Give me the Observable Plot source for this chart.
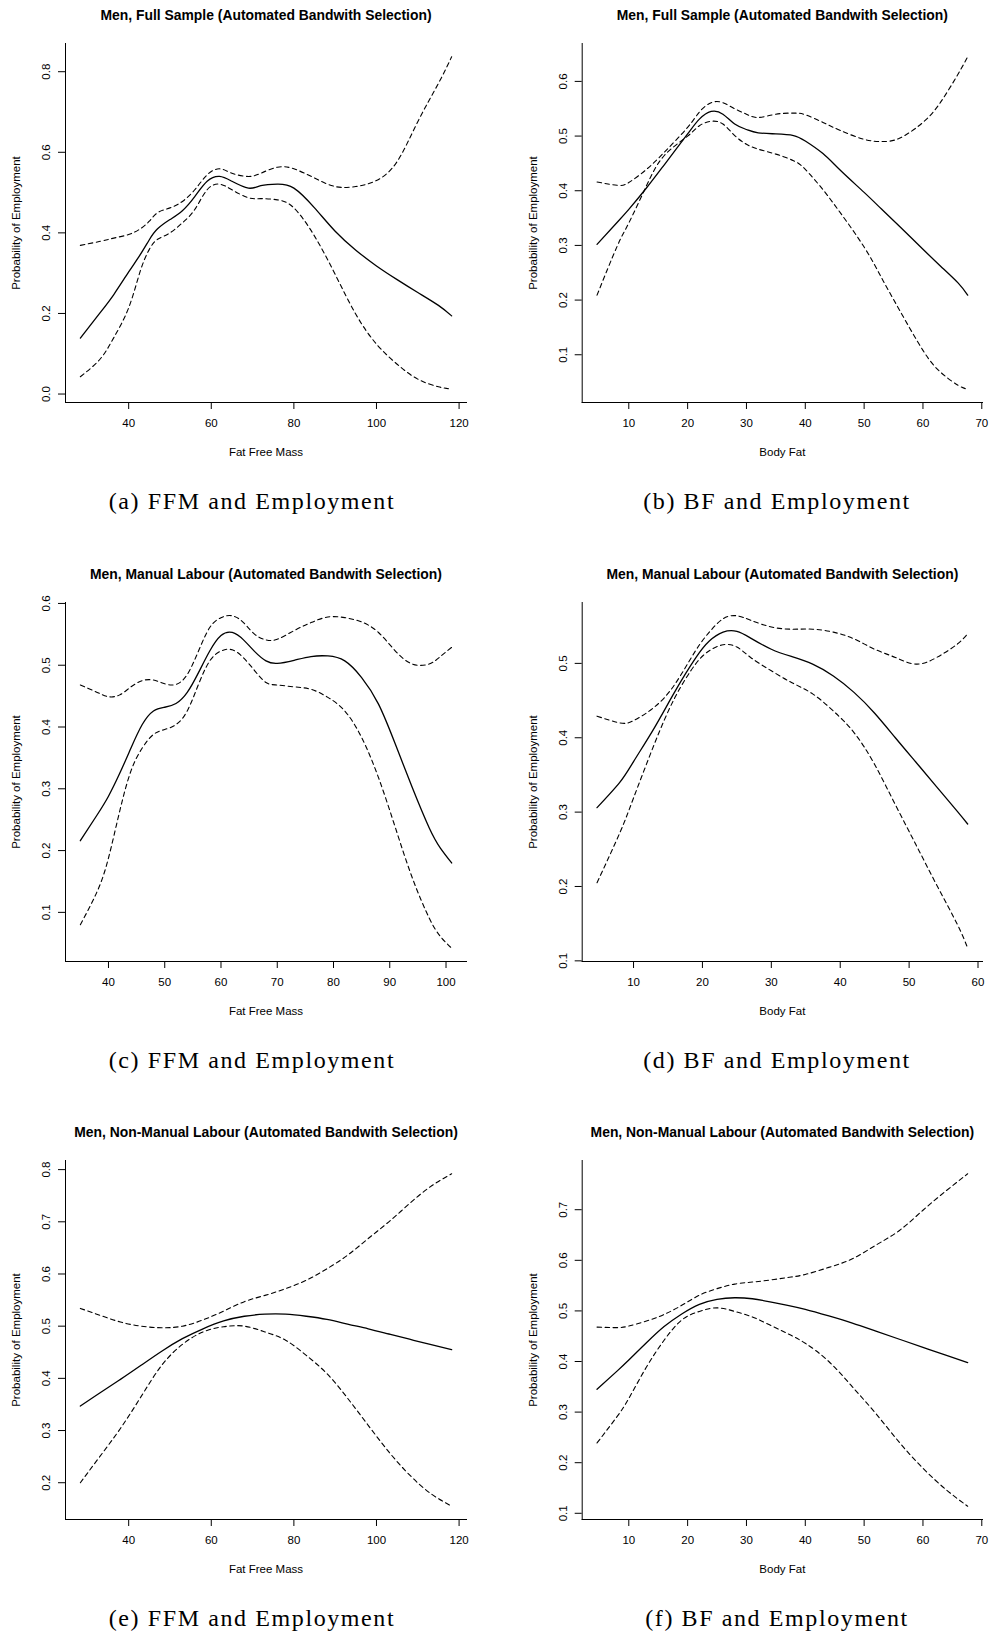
<!DOCTYPE html>
<html>
<head>
<meta charset="utf-8">
<script src="https://cdn.jsdelivr.net/npm/d3@7"></script>
<script src="https://cdn.jsdelivr.net/npm/@observablehq/plot@0.6"></script>
<style>
  html, body { margin: 0; padding: 0; background: #fff; }
  #page { position: relative; width: 990px; height: 1633px; overflow: hidden; background: #fff; }
  .panel { position: absolute; }
  .cap { position: absolute; width: 440px; text-align: center; white-space: nowrap;
         font-family: "Liberation Serif", "Times New Roman", serif; font-size: 24px; line-height: 24px;
         letter-spacing: 1.6px; color: #000; }
</style>
</head>
<body>
<div id="page"></div>
<script>
// ---------------- Data ----------------
const yLabel = "Probability of Employment";
const titleFull = "Men, Full Sample (Automated Bandwith Selection)";
const titleManual = "Men, Manual Labour (Automated Bandwith Selection)";
const titleNonManual = "Men, Non-Manual Labour (Automated Bandwith Selection)";
const labelFFM = "Fat Free Mass";
const labelBF = "Body Fat";
const captions = ["(a) FFM and Employment", "(b) BF and Employment",
                  "(c) FFM and Employment", "(d) BF and Employment",
                  "(e) FFM and Employment", "(f) BF and Employment"];

// (a) Full sample, FFM
const aX     = [28.3, 33.1, 36.4, 40, 42.8, 45, 47, 50, 53, 56, 59, 62, 65, 69, 72, 76, 80, 85, 90, 95, 100, 105, 110, 115, 118.2];
const aFit   = [0.139, 0.202, 0.247, 0.303, 0.346, 0.383, 0.410, 0.433, 0.455, 0.490, 0.528, 0.540, 0.528, 0.511, 0.517, 0.521, 0.511, 0.462, 0.404, 0.357, 0.318, 0.284, 0.252, 0.220, 0.194];
const aUpper = [0.369, 0.379, 0.387, 0.396, 0.410, 0.429, 0.450, 0.462, 0.478, 0.507, 0.544, 0.559, 0.548, 0.540, 0.548, 0.563, 0.559, 0.536, 0.515, 0.515, 0.530, 0.577, 0.676, 0.771, 0.837];
const aLower = [0.043, 0.087, 0.140, 0.214, 0.305, 0.359, 0.384, 0.400, 0.425, 0.458, 0.507, 0.521, 0.507, 0.487, 0.485, 0.482, 0.462, 0.392, 0.297, 0.198, 0.124, 0.074, 0.037, 0.018, 0.012];
const aXTicks = [40, 60, 80, 100, 120];
const aYTicks = [0, 0.2, 0.4, 0.6, 0.8];

// (b) Full sample, BF
const bX     = [4.6, 8, 10, 13, 16, 20, 22, 24, 26, 28, 30, 32, 35, 38, 40, 43, 46, 50, 53, 56, 60, 63, 66, 67.6];
const bFit   = [0.302, 0.342, 0.366, 0.405, 0.447, 0.504, 0.531, 0.545, 0.540, 0.522, 0.512, 0.506, 0.504, 0.501, 0.491, 0.468, 0.437, 0.397, 0.366, 0.335, 0.293, 0.262, 0.231, 0.209];
const bUpper = [0.416, 0.410, 0.415, 0.439, 0.470, 0.516, 0.544, 0.561, 0.561, 0.550, 0.540, 0.534, 0.540, 0.542, 0.539, 0.525, 0.510, 0.494, 0.490, 0.496, 0.525, 0.562, 0.614, 0.645];
const bLower = [0.209, 0.298, 0.341, 0.409, 0.464, 0.500, 0.519, 0.527, 0.522, 0.501, 0.485, 0.476, 0.467, 0.455, 0.439, 0.402, 0.359, 0.297, 0.240, 0.182, 0.108, 0.068, 0.044, 0.037];
const bXTicks = [10, 20, 30, 40, 50, 60, 70];
const bYTicks = [0.1, 0.2, 0.3, 0.4, 0.5, 0.6];

// (c) Manual labour, FFM
const cX     = [35, 38, 40, 42, 44, 46, 48, 50, 52, 54, 56, 58, 60, 62, 64, 66, 68, 70, 73, 76, 79, 82, 85, 88, 91, 94, 97, 99, 101];
const cFit   = [0.216, 0.258, 0.288, 0.325, 0.366, 0.404, 0.426, 0.432, 0.438, 0.456, 0.488, 0.523, 0.548, 0.553, 0.541, 0.522, 0.507, 0.503, 0.508, 0.514, 0.515, 0.507, 0.480, 0.437, 0.372, 0.302, 0.237, 0.204, 0.180];
const cUpper = [0.468, 0.456, 0.449, 0.452, 0.465, 0.475, 0.476, 0.470, 0.469, 0.485, 0.523, 0.561, 0.577, 0.580, 0.569, 0.550, 0.541, 0.542, 0.556, 0.569, 0.578, 0.577, 0.570, 0.553, 0.523, 0.502, 0.502, 0.514, 0.529];
const cLower = [0.080, 0.134, 0.188, 0.264, 0.329, 0.366, 0.388, 0.396, 0.404, 0.426, 0.469, 0.507, 0.523, 0.525, 0.512, 0.491, 0.472, 0.468, 0.465, 0.461, 0.448, 0.426, 0.383, 0.318, 0.237, 0.156, 0.091, 0.061, 0.042];
const cXTicks = [40, 50, 60, 70, 80, 90, 100];
const cYTicks = [0.1, 0.2, 0.3, 0.4, 0.5, 0.6];

// (d) Manual labour, BF
const dX     = [4.7, 8, 10, 13, 16, 19, 21, 23, 25, 27, 30, 33, 36, 39, 42, 45, 48, 51, 54, 57, 58.5];
const dFit   = [0.306, 0.340, 0.368, 0.413, 0.462, 0.507, 0.530, 0.542, 0.543, 0.534, 0.519, 0.509, 0.499, 0.483, 0.461, 0.433, 0.400, 0.367, 0.334, 0.301, 0.284];
const dUpper = [0.429, 0.420, 0.423, 0.441, 0.472, 0.517, 0.542, 0.560, 0.564, 0.558, 0.549, 0.546, 0.546, 0.542, 0.533, 0.519, 0.508, 0.499, 0.508, 0.526, 0.540];
const dLower = [0.205, 0.272, 0.319, 0.391, 0.454, 0.499, 0.517, 0.525, 0.522, 0.508, 0.490, 0.474, 0.459, 0.436, 0.407, 0.364, 0.310, 0.256, 0.202, 0.149, 0.117];
const dXTicks = [10, 20, 30, 40, 50, 60];
const dYTicks = [0.1, 0.2, 0.3, 0.4, 0.5];

// (e) Non-manual labour, FFM
const eX     = [28.3, 33, 38, 43, 48, 53, 58, 63, 68, 73, 78, 83, 88, 93, 98, 103, 108, 113, 118.2];
const eFit   = [0.347, 0.372, 0.398, 0.425, 0.452, 0.476, 0.495, 0.510, 0.519, 0.523, 0.523, 0.519, 0.513, 0.504, 0.495, 0.485, 0.475, 0.465, 0.455];
const eUpper = [0.534, 0.521, 0.508, 0.500, 0.497, 0.500, 0.512, 0.529, 0.547, 0.559, 0.572, 0.588, 0.610, 0.636, 0.668, 0.700, 0.735, 0.767, 0.792];
const eLower = [0.200, 0.250, 0.304, 0.365, 0.425, 0.465, 0.489, 0.499, 0.500, 0.489, 0.473, 0.444, 0.409, 0.362, 0.310, 0.259, 0.215, 0.180, 0.155];
const eXTicks = [40, 60, 80, 100, 120];
const eYTicks = [0.2, 0.3, 0.4, 0.5, 0.6, 0.7, 0.8];

// (f) Non-manual labour, BF
const fX     = [4.6, 8, 10, 13, 16, 19, 22, 25, 28, 31, 34, 37, 40, 44, 48, 52, 56, 60, 64, 67.6];
const fFit   = [0.345, 0.381, 0.403, 0.437, 0.469, 0.494, 0.513, 0.523, 0.526, 0.524, 0.518, 0.511, 0.503, 0.490, 0.476, 0.460, 0.444, 0.428, 0.412, 0.398];
const fUpper = [0.468, 0.467, 0.470, 0.480, 0.493, 0.511, 0.531, 0.544, 0.553, 0.557, 0.561, 0.566, 0.572, 0.586, 0.603, 0.630, 0.659, 0.699, 0.738, 0.771];
const fLower = [0.239, 0.291, 0.327, 0.389, 0.442, 0.482, 0.499, 0.506, 0.499, 0.488, 0.472, 0.455, 0.436, 0.400, 0.350, 0.297, 0.240, 0.189, 0.146, 0.114];
const fXTicks = [10, 20, 30, 40, 50, 60, 70];
const fYTicks = [0.1, 0.2, 0.3, 0.4, 0.5, 0.6, 0.7];

// ---------------- Layout ----------------
const FONT = '"Liberation Sans", Arial, Helvetica, sans-serif';
const frameTops = [43, 602, 1160];
const captionBaselines = [509, 1068, 1626];
const captionCenters = [252, 777];
const MT = 40, MB = 60, FRAME_H = 359, W = 495;
const cols = [{left: 0, ml: 65, mr: 29}, {left: 495, ml: 86.7, mr: 8}];

const panels = [
  {x: aX, fit: aFit, upper: aUpper, lower: aLower, xt: aXTicks, yt: aYTicks, title: titleFull, xl: labelFFM},
  {x: bX, fit: bFit, upper: bUpper, lower: bLower, xt: bXTicks, yt: bYTicks, title: titleFull, xl: labelBF},
  {x: cX, fit: cFit, upper: cUpper, lower: cLower, xt: cXTicks, yt: cYTicks, title: titleManual, xl: labelFFM},
  {x: dX, fit: dFit, upper: dUpper, lower: dLower, xt: dXTicks, yt: dYTicks, title: titleManual, xl: labelBF},
  {x: eX, fit: eFit, upper: eUpper, lower: eLower, xt: eXTicks, yt: eYTicks, title: titleNonManual, xl: labelFFM},
  {x: fX, fit: fFit, upper: fUpper, lower: fLower, xt: fXTicks, yt: fYTicks, title: titleNonManual, xl: labelBF}
];

// R-style axis domain: data range extended by 4% on each side
function expand(vals) {
  const lo = d3.min(vals), hi = d3.max(vals), r = hi - lo;
  return [lo - 0.04 * r, hi + 0.04 * r];
}

const page = document.getElementById("page");
const CURVE = "natural";

panels.forEach((p, i) => {
  const row = Math.floor(i / 2), col = cols[i % 2];
  const rows = p.x.map((x, k) => ({x, fit: p.fit[k], upper: p.upper[k], lower: p.lower[k]}));
  const chart = Plot.plot({
    width: W,
    height: MT + FRAME_H + MB,
    marginTop: MT, marginBottom: MB, marginLeft: col.ml, marginRight: col.mr,
    style: {fontFamily: FONT, fontSize: "11.5px", color: "#000", background: "transparent", overflow: "visible"},
    x: {domain: expand(p.x)},
    y: {domain: expand([...p.fit, ...p.upper, ...p.lower])},
    marks: [
      Plot.frame({anchor: "left", stroke: "#000", strokeWidth: 1}),
      Plot.frame({anchor: "bottom", stroke: "#000", strokeWidth: 1}),
      Plot.axisX(p.xt, {tickSize: 7, tickPadding: 9, fontSize: 11.5, label: null, tickFormat: d3.format("d"), stroke: "#000", fill: "#000"}),
      Plot.axisY(p.yt, {tickSize: 7, tickPadding: 8.5, tickRotate: -90, fontSize: 11.5, label: null, tickFormat: d3.format(".1f"), stroke: "#000", fill: "#000"}),
      Plot.line(rows, {x: "x", y: "upper", stroke: "#000", strokeWidth: 1.1, strokeDasharray: "4.5,3.5", curve: CURVE}),
      Plot.line(rows, {x: "x", y: "lower", stroke: "#000", strokeWidth: 1.1, strokeDasharray: "4.5,3.5", curve: CURVE}),
      Plot.line(rows, {x: "x", y: "fit", stroke: "#000", strokeWidth: 1.3, curve: CURVE}),
      Plot.text([p.title], {text: d => d, frameAnchor: "top", textAnchor: "middle", lineAnchor: "bottom", dy: -24, fontWeight: "bold", fontSize: 13.9, fill: "#000"}),
      Plot.text([p.xl], {text: d => d, frameAnchor: "bottom", textAnchor: "middle", lineAnchor: "bottom", dy: 53, fontSize: 11.5, fill: "#000"}),
      Plot.text([yLabel], {text: d => d, frameAnchor: "left", textAnchor: "middle", lineAnchor: "bottom", rotate: -90, dx: -45.5, fontSize: 11.5, fill: "#000"})
    ]
  });
  const holder = document.createElement("div");
  holder.className = "panel";
  holder.style.left = col.left + "px";
  holder.style.top = (frameTops[row] - MT) + "px";
  holder.appendChild(chart);
  page.appendChild(holder);

  const cap = document.createElement("div");
  cap.className = "cap";
  cap.textContent = captions[i];
  cap.style.left = (captionCenters[i % 2] - 220) + "px";
  cap.style.top = (captionBaselines[row] - 20) + "px";
  page.appendChild(cap);
});
</script>
</body>
</html>
